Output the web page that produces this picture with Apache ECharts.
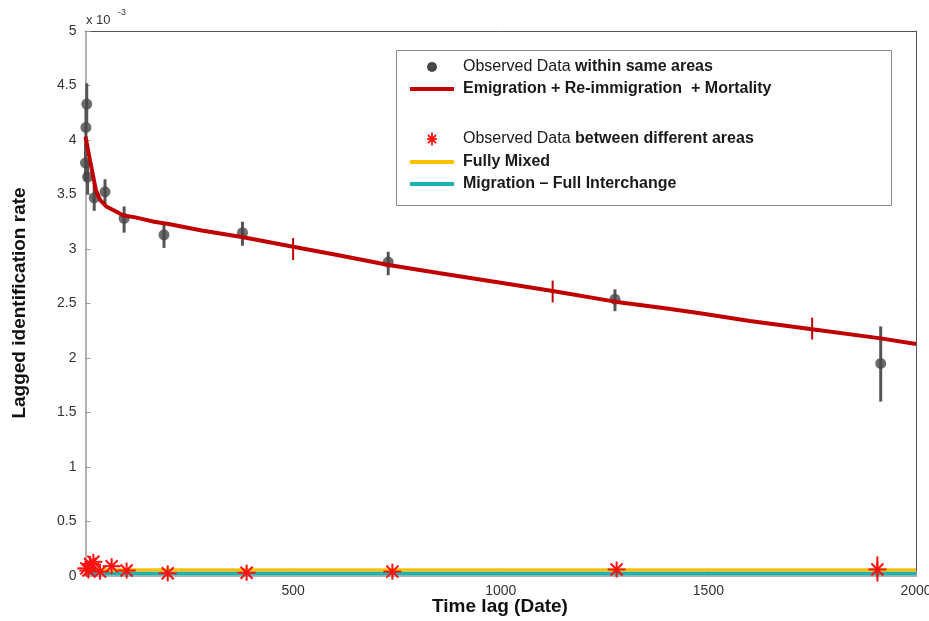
<!DOCTYPE html>
<html>
<head>
<meta charset="utf-8">
<title>Lagged identification rate</title>
<script src="https://cdn.jsdelivr.net/npm/echarts@6/dist/echarts.min.js"></script>
<style>
  html, body { margin: 0; padding: 0; background: #ffffff; }
  #chart { width: 929px; height: 621px; }
</style>
</head>
<body>
<div id="chart"></div>
<script>
// Rates are in units of 1e-3 (see the "x 10^-3" multiplier above the y axis).

// Observed data within same areas (mean with error bar)
const withinLag  = [0, 1, 3, 5, 21, 47, 93, 189, 378, 729, 1275, 1915];
const withinRate = [3.79, 4.115, 4.33, 3.66, 3.47, 3.525, 3.28, 3.13, 3.15, 2.88, 2.54, 1.95];
const withinLow  = [3.62, 3.92, 4.15, 3.50, 3.35, 3.41, 3.15, 3.01, 3.03, 2.76, 2.43, 1.60];
const withinHigh = [3.97, 4.30, 4.52, 3.82, 3.59, 3.64, 3.39, 3.23, 3.25, 2.975, 2.63, 2.29];

// Emigration + Re-immigration + Mortality model curve
const modelLag  = [0, 10, 25, 35, 50, 70, 90, 120, 165, 200, 280, 380, 500, 600, 730, 850, 1000, 1125, 1275, 1400, 1480, 1600, 1750, 1915, 2000];
const modelRate = [4.03, 3.83, 3.54, 3.45, 3.39, 3.35, 3.31, 3.29, 3.25, 3.23, 3.17, 3.107, 3.02, 2.95, 2.853, 2.78, 2.69, 2.615, 2.517, 2.455, 2.41, 2.34, 2.263, 2.18, 2.128];
// model confidence marks
const modelBarLag  = [500, 1125, 1750];
const modelBarLow  = [2.90, 2.51, 2.17];
const modelBarHigh = [3.10, 2.71, 2.37];

// Observed data between different areas
const betweenLag  = [2, 7, 11, 19, 35, 63, 99, 198, 388, 739, 1279, 1907];
const betweenRate = [0.07, 0.05, 0.11, 0.13, 0.04, 0.09, 0.05, 0.025, 0.03, 0.04, 0.06, 0.06];
const betweenBarLag  = [1907];
const betweenBarLow  = [-0.05];
const betweenBarHigh = [0.18];

// Flat model levels
const fullyMixedRate = 0.055;
const fullInterchangeRate = 0.023;
const lagRange = [0, 2000];

// Axis settings
const xTickStep = 500;
const yTickStep = 0.5;
const xTitle = 'Time lag (Date)';
const yTitle = 'Lagged identification rate';

const C_DOT = '#474747';
const C_BAR = '#555555';
const C_MODEL = '#c00000';
const C_STAR = '#ff1010';
const C_YELLOW = '#ffc000';
const C_TEAL = '#1ab3b3';
const FONT = '"Liberation Sans", Arial, sans-serif';

function zip(a, b) { return a.map((v, i) => [v, b[i]]); }
function zip3(a, b, c) { return a.map((v, i) => [v, b[i], c[i]]); }

function errorBarRenderer(color, width) {
  return function (params, api) {
    const p0 = api.coord([api.value(0), api.value(1)]);
    const p1 = api.coord([api.value(0), api.value(2)]);
    return {
      type: 'line',
      shape: { x1: p0[0], y1: p0[1], x2: p1[0], y2: p1[1] },
      style: { stroke: color, lineWidth: width }
    };
  };
}

function asteriskShapes(cx, cy, hx, hy, d, color, lw, z) {
  const segs = [
    [cx - hx, cy, cx + hx, cy],
    [cx, cy - hy, cx, cy + hy],
    [cx - d, cy - d, cx + d, cy + d],
    [cx - d, cy + d, cx + d, cy - d]
  ];
  return segs.map(s => {
    const el = {
      type: 'line',
      shape: { x1: s[0], y1: s[1], x2: s[2], y2: s[3] },
      style: { stroke: color, lineWidth: lw }
    };
    if (z !== undefined) el.z = z;
    return el;
  });
}

const chart = echarts.init(document.getElementById('chart'), null, { renderer: 'canvas' });

const legendX = 396, legendY = 50;
const textX = 463;
const rich = {
  n: { fontFamily: FONT, fontSize: 16, fill: '#1a1a1a' },
  b: { fontFamily: FONT, fontSize: 16, fontWeight: 'bold', fill: '#1a1a1a' }
};
function legendText(y, str) {
  return {
    type: 'text', x: textX, y: y, z: 100,
    style: { text: str, rich: rich, verticalAlign: 'middle', align: 'left' }
  };
}
function legendLine(y, color) {
  return {
    type: 'line', z: 100,
    shape: { x1: 410, y1: y, x2: 454, y2: y },
    style: { stroke: color, lineWidth: 4 }
  };
}

const option = {
  animation: false,
  backgroundColor: '#ffffff',
  grid: { left: 85.5, right: 13, top: 31, bottom: 45, containLabel: false, outerBoundsMode: 'none' },
  xAxis: [{
    type: 'value',
    min: lagRange[0], max: lagRange[1], interval: xTickStep,
    axisLine: { show: true, lineStyle: { color: '#9a9a9a', width: 1.5 } },
    axisTick: { show: true, inside: true, length: 5, lineStyle: { color: '#9a9a9a' } },
    axisLabel: {
      fontFamily: FONT, fontSize: 14, color: '#333', margin: 8,
      formatter: v => (v === 0 ? '' : String(v))
    },
    splitLine: { show: false }
  }, {
    type: 'value', position: 'top',
    min: lagRange[0], max: lagRange[1],
    axisLine: { show: true, onZero: false, lineStyle: { color: '#555', width: 1 } },
    axisTick: { show: false }, axisLabel: { show: false }, splitLine: { show: false }
  }],
  yAxis: [{
    type: 'value',
    min: 0, max: 5, interval: yTickStep,
    axisLine: { show: true, lineStyle: { color: '#9a9a9a', width: 1.5 } },
    axisTick: { show: true, inside: true, length: 5, lineStyle: { color: '#9a9a9a' } },
    axisLabel: { fontFamily: FONT, fontSize: 14, color: '#333', margin: 9 },
    splitLine: { show: false }
  }, {
    type: 'value', position: 'right',
    min: 0, max: 5,
    axisLine: { show: true, onZero: false, lineStyle: { color: '#555', width: 1 } },
    axisTick: { show: false }, axisLabel: { show: false }, splitLine: { show: false }
  }],
  series: [
    {
      name: 'Fully Mixed', type: 'line', z: 3,
      data: [[lagRange[0], fullyMixedRate], [lagRange[1], fullyMixedRate]],
      symbol: 'none', lineStyle: { color: C_YELLOW, width: 3.5 }
    },
    {
      name: 'Migration – Full Interchange', type: 'line', z: 3,
      data: [[lagRange[0], fullInterchangeRate], [lagRange[1], fullInterchangeRate]],
      symbol: 'none', lineStyle: { color: C_TEAL, width: 3.5 }
    },
    {
      name: 'within error', type: 'custom', z: 4,
      renderItem: errorBarRenderer(C_BAR, 3),
      data: zip3(withinLag, withinLow, withinHigh)
    },
    {
      name: 'Observed Data within same areas', type: 'scatter', z: 5,
      data: zip(withinLag, withinRate),
      symbol: 'circle', symbolSize: 11,
      itemStyle: { color: C_DOT }
    },
    {
      name: 'Emigration + Re-immigration + Mortality', type: 'line', z: 6,
      data: zip(modelLag, modelRate),
      symbol: 'none', smooth: false,
      lineStyle: { color: C_MODEL, width: 4 }
    },
    {
      name: 'model marks', type: 'custom', z: 7,
      renderItem: errorBarRenderer(C_MODEL, 2),
      data: zip3(modelBarLag, modelBarLow, modelBarHigh)
    },
    {
      name: 'between error', type: 'custom', z: 8,
      renderItem: errorBarRenderer(C_STAR, 2),
      data: zip3(betweenBarLag, betweenBarLow, betweenBarHigh)
    },
    {
      name: 'Observed Data between different areas', type: 'custom', z: 9,
      renderItem: function (params, api) {
        const p = api.coord([api.value(0), api.value(1)]);
        return { type: 'group', children: asteriskShapes(p[0], p[1], 9, 8, 6, C_STAR, 2) };
      },
      data: zip(betweenLag, betweenRate)
    }
  ],
  graphic: [
    // axis titles
    {
      type: 'text', x: 500, y: 607,
      style: { text: xTitle, fontFamily: FONT, fontSize: 19, fontWeight: 'bold', fill: '#111', align: 'center', verticalAlign: 'middle' }
    },
    {
      type: 'text', x: 20, y: 303, rotation: Math.PI / 2,
      style: { text: yTitle, fontFamily: FONT, fontSize: 19, fontWeight: 'bold', fill: '#111', align: 'center', verticalAlign: 'middle' }
    },
    // multiplier above the y axis
    { type: 'text', x: 86, y: 20, style: { text: 'x 10', fontFamily: FONT, fontSize: 13, fill: '#333', verticalAlign: 'middle' } },
    { type: 'text', x: 118, y: 13, style: { text: '-3', fontFamily: FONT, fontSize: 9, fill: '#333', verticalAlign: 'middle' } },
    // legend
    {
      type: 'rect', z: 99,
      shape: { x: legendX + 0.5, y: legendY + 0.5, width: 495, height: 155 },
      style: { fill: '#ffffff', stroke: '#8c8c8c', lineWidth: 1 }
    },
    { type: 'circle', z: 100, shape: { cx: 432, cy: 67, r: 5 }, style: { fill: C_DOT } },
    legendText(67, '{n|Observed Data }{b|within same areas}'),
    legendLine(89, C_MODEL),
    legendText(89, '{b|Emigration + Re-immigration  + Mortality}'),
    { type: 'group', z: 100, children: asteriskShapes(432, 139, 5, 6.5, 4, C_STAR, 1.8, 101) },
    legendText(139, '{n|Observed Data }{b|between different areas}'),
    legendLine(162, C_YELLOW),
    legendText(162, '{b|Fully Mixed}'),
    legendLine(184, C_TEAL),
    legendText(184, '{b|Migration – Full Interchange}')
  ]
};

chart.setOption(option);
</script>
</body>
</html>
